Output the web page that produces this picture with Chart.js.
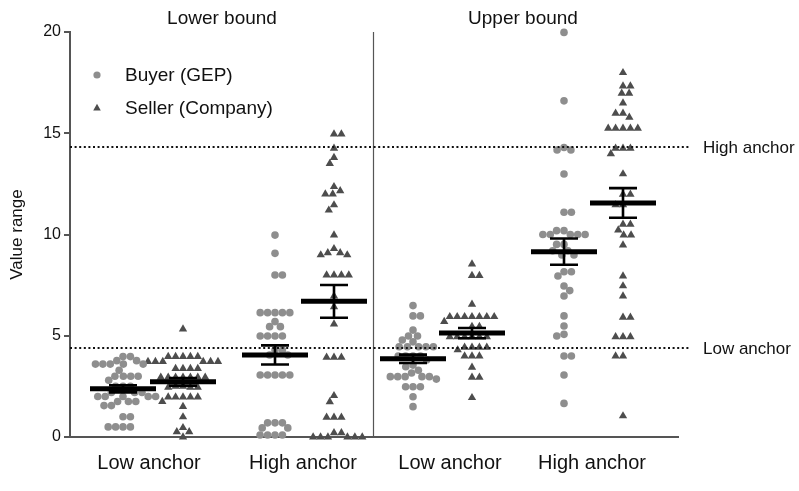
<!DOCTYPE html>
<html><head><meta charset="utf-8">
<script src="https://cdn.jsdelivr.net/npm/chart.js@4/dist/chart.umd.min.js"></script>
<style>html,body{margin:0;padding:0;background:#fff}#wrap{width:799px;height:491px;position:relative}</style>
</head><body><div id="wrap"><canvas id="c"></canvas></div>
<script>
// ---------- data ----------
const categories = ["Low anchor", "High anchor", "Low anchor", "High anchor"];
const panels = ["Lower bound", "Upper bound"];
const seriesNames = ["Buyer (GEP)", "Seller (Company)"];
const yTicks = [0, 5, 10, 15, 20];
const anchorValues = [4.4, 14.32];
const anchorLabels = ["Low anchor", "High anchor"];

const buyerLowerLow = [3.97,3.97,3.77,3.77,3.6,3.6,3.6,3.6,3.6,3.3,3.0,3.0,3.0,3.0,2.8,2.5,2.5,2.5,2.2,2.2,2.2,2.0,2.0,2.0,2.0,2.0,1.75,1.75,1.75,1.55,1.55,1.0,1.0,0.5,0.5,0.5,0.5];
const sellerLowerLow = [5.33,3.97,3.97,3.97,3.97,3.97,3.72,3.72,3.72,3.72,3.72,3.72,3.38,3.38,3.38,3.38,2.95,2.95,2.95,2.95,2.95,2.95,2.95,2.45,2.45,2.45,2.5,2.5,1.97,1.97,1.97,1.97,1.97,1.75,1.5,0.99,0.46,0.26,0.26,0.0];
const buyerLowerHigh = [9.97,9.07,8.0,8.0,6.14,6.14,6.14,6.14,6.14,5.7,5.45,5.45,4.99,4.99,4.99,4.99,4.3,4.3,4.05,4.05,3.06,3.06,3.06,3.06,3.06,0.7,0.7,0.7,0.45,0.45,0.1,0.1,0.1,0.1];
const sellerLowerHigh = [14.96,14.96,14.26,13.8,13.5,12.36,12.16,12.0,12.0,11.46,11.2,9.97,9.3,9.1,9.1,8.99,8.99,8.0,8.0,8.0,8.0,6.96,6.43,5.58,3.93,3.93,3.93,2.04,1.74,0.97,0.97,0.97,0.21,0.21,0,0,0,0,0,0];
const buyerUpperLow = [6.49,5.98,5.98,5.28,4.99,4.99,4.79,4.7,4.46,4.46,4.46,4.46,4.46,4.0,4.0,4.0,4.0,3.8,3.55,3.47,3.3,3.16,2.98,2.98,2.98,2.98,2.98,2.86,2.48,2.48,2.48,1.99,1.5];
const sellerUpperLow = [8.54,7.97,7.97,6.55,5.94,5.94,5.94,5.94,5.94,5.94,5.94,5.7,5.45,5.45,4.95,4.95,4.95,4.95,4.95,4.95,4.43,4.43,4.43,4.43,4.3,4.0,4.0,4.0,3.44,2.95,2.95,1.94];
const buyerUpperHigh = [19.98,16.6,14.3,14.17,14.17,12.99,11.1,11.1,10.19,10.19,10.0,10.0,10.0,10.0,10.0,9.51,9.51,9.2,9.2,8.99,8.99,8.16,8.16,7.95,7.46,7.23,6.96,5.98,5.48,5.07,4.99,4.0,4.0,3.06,1.66];
const sellerUpperHigh = [17.99,17.33,17.33,16.97,16.97,16.49,15.98,15.98,15.79,15.24,15.24,15.24,15.24,15.24,14.26,14.26,14.26,13.98,12.99,11.98,11.98,11.46,11.46,10.5,10.5,10.22,9.97,9.97,9.48,7.95,7.46,6.96,5.91,5.91,4.95,4.95,4.95,4.0,4.0,1.04];

const buyerGroups = [buyerLowerLow, buyerLowerHigh, buyerUpperLow, buyerUpperHigh];
const sellerGroups = [sellerLowerLow, sellerLowerHigh, sellerUpperLow, sellerUpperHigh];

// ---------- layout (x scale units = px inside plot) ----------
const buyerX = [53, 205, 343, 494];
const sellerX = [113, 264, 402, 553];
const categoryX = [79, 233, 380, 522];
const panelX = [152, 453];
const dividerX = 303;

const FONT = '"Liberation Sans", Arial, Helvetica, sans-serif';
const BUYER_COLOR = '#8e8e8e';
const SELLER_COLOR = '#4d4d4d';

function swarm(values, cx, chart, D) {
  const xs = chart.scales.x, ys = chart.scales.y;
  const cpx = xs.getPixelForValue(cx);
  const idx = values.map((v, i) => i).sort((a, b) => values[b] - values[a]);
  const placed = [];
  const out = [];
  let flip = 1;
  for (const i of idx) {
    const py = ys.getPixelForValue(values[i]);
    const blocks = [];
    for (const p of placed) {
      const dy = Math.abs(p.py - py);
      if (dy < D) {
        const w = Math.sqrt(D * D - dy * dy);
        blocks.push([p.off - w, p.off + w]);
      }
    }
    const cands = [0];
    blocks.forEach(b => { cands.push(b[0], b[1]); });
    const free = cands.filter(c => !blocks.some(b => c > b[0] + 1e-6 && c < b[1] - 1e-6));
    free.sort((a, b) => Math.abs(a) - Math.abs(b) || (flip * (b - a)));
    const off = free[0];
    if (off !== 0) flip = -flip;
    placed.push({ py, off });
    out.push({ x: xs.getValueForPixel(cpx + off), y: values[i] });
  }
  return out;
}

function stats(v) {
  const n = v.length;
  const m = v.reduce((a, b) => a + b, 0) / n;
  const sd = Math.sqrt(v.reduce((a, b) => a + (b - m) * (b - m), 0) / (n - 1));
  return { mean: m, sem: sd / Math.sqrt(n) };
}

const overlay = {
  id: 'overlay',
  beforeDraw(chart) {
    const ctx = chart.ctx;
    ctx.save(); ctx.fillStyle = '#fff'; ctx.fillRect(0, 0, chart.width, chart.height); ctx.restore();
  },
  afterDatasetsDraw(chart) {
    const ctx = chart.ctx, xs = chart.scales.x, ys = chart.scales.y, ca = chart.chartArea;
    ctx.save();
    // divider
    ctx.strokeStyle = '#555'; ctx.lineWidth = 1.2;
    const dx = Math.round(xs.getPixelForValue(dividerX)) + 0.5;
    ctx.beginPath(); ctx.moveTo(dx, ca.top); ctx.lineTo(dx, ca.bottom); ctx.stroke();
    // anchors
    ctx.strokeStyle = '#111'; ctx.lineWidth = 2; ctx.setLineDash([2, 2.6]);
    anchorValues.forEach((v, i) => {
      const y = ys.getPixelForValue(v);
      ctx.beginPath(); ctx.moveTo(ca.left, y); ctx.lineTo(ca.right + 12, y); ctx.stroke();
    });
    ctx.setLineDash([]);
    ctx.fillStyle = '#111'; ctx.font = '17px ' + FONT; ctx.textBaseline = 'middle'; ctx.textAlign = 'left';
    anchorValues.forEach((v, i) => {
      ctx.fillText(anchorLabels[i], ca.right + 25, ys.getPixelForValue(v) + 1);
    });
    // mean +- SEM
    const groups = [];
    buyerGroups.forEach((g, i) => groups.push([g, buyerX[i]]));
    sellerGroups.forEach((g, i) => groups.push([g, sellerX[i]]));
    ctx.strokeStyle = '#000';
    groups.forEach(([g, cx]) => {
      const s = stats(g);
      const x = xs.getPixelForValue(cx);
      const ym = ys.getPixelForValue(s.mean);
      const yt = ys.getPixelForValue(s.mean + s.sem);
      const yb = ys.getPixelForValue(s.mean - s.sem);
      ctx.lineWidth = 2.6;
      ctx.beginPath();
      ctx.moveTo(x, yt); ctx.lineTo(x, yb);
      ctx.moveTo(x - 14, yt); ctx.lineTo(x + 14, yt);
      ctx.moveTo(x - 14, yb); ctx.lineTo(x + 14, yb);
      ctx.stroke();
      ctx.lineWidth = 5;
      ctx.beginPath(); ctx.moveTo(x - 33, ym); ctx.lineTo(x + 33, ym); ctx.stroke();
    });
    // panel titles
    ctx.fillStyle = '#111'; ctx.font = '19px ' + FONT; ctx.textAlign = 'center'; ctx.textBaseline = 'middle';
    panels.forEach((p, i) => ctx.fillText(p, xs.getPixelForValue(panelX[i]), 19));
    // legend
    const lx = ca.left + 27;
    const ly = [ca.top + 43, ca.top + 76];
    ctx.fillStyle = BUYER_COLOR;
    ctx.beginPath(); ctx.arc(lx, ly[0], 3.6, 0, Math.PI * 2); ctx.fill();
    ctx.fillStyle = SELLER_COLOR;
    ctx.beginPath(); ctx.moveTo(lx, ly[1] - 4.2); ctx.lineTo(lx + 3.8, ly[1] + 2.4); ctx.lineTo(lx - 3.8, ly[1] + 2.4); ctx.closePath(); ctx.fill();
    ctx.fillStyle = '#111'; ctx.font = '19px ' + FONT; ctx.textAlign = 'left';
    seriesNames.forEach((n, i) => ctx.fillText(n, lx + 28, ly[i] + 1));
    ctx.restore();
  }
};

const chart = new Chart(document.getElementById('c'), {
  type: 'scatter',
  data: {
    datasets: [
      { label: seriesNames[0], data: [], clip: false, pointStyle: 'circle', pointRadius: 3.8, pointHoverRadius: 3.8,
        backgroundColor: BUYER_COLOR, borderWidth: 0 },
      { label: seriesNames[1], data: [], clip: false, pointStyle: 'triangle', pointRadius: 4.8, pointHoverRadius: 4.8,
        backgroundColor: SELLER_COLOR, borderWidth: 0 }
    ]
  },
  options: {
    responsive: true, maintainAspectRatio: false, animation: false,
    layout: { padding: { top: 32, right: 121, left: 0, bottom: 0 } },
    plugins: { legend: { display: false }, tooltip: { enabled: false } },
    scales: {
      x: {
        type: 'linear', min: 0, max: 608,
        grid: { display: false, drawTicks: false },
        border: { display: true, color: '#555', width: 2 },
        afterBuildTicks: s => { s.ticks = categoryX.map(v => ({ value: v })); },
        afterFit: s => { s.height = 54; },
        ticks: { autoSkip: false, maxRotation: 0, padding: 14, color: '#111',
          font: { size: 20, family: FONT },
          callback: (v, i) => categories[i] }
      },
      y: {
        min: 0, max: 20,
        afterBuildTicks: s => { s.ticks = yTicks.map(v => ({ value: v })); },
        afterFit: s => { s.width = 70; },
        grid: { drawOnChartArea: false, drawTicks: true, tickLength: 6, color: '#555', lineWidth: 2 },
        border: { display: true, color: '#555', width: 2 },
        ticks: { padding: 3, color: '#111', font: { size: 16, family: FONT } },
        title: { display: true, text: 'Value range', color: '#111', padding: { top: 7, bottom: 0 },
          font: { size: 17, family: FONT } }
      }
    }
  },
  plugins: [overlay]
});

function fill() {
  const D = 7.4;
  const b = [], s = [];
  buyerGroups.forEach((g, i) => b.push(...swarm(g, buyerX[i], chart, D)));
  sellerGroups.forEach((g, i) => s.push(...swarm(g, sellerX[i], chart, D)));
  chart.data.datasets[0].data = b;
  chart.data.datasets[1].data = s;
  chart.update('none');
}
fill();
</script>
</body></html>
